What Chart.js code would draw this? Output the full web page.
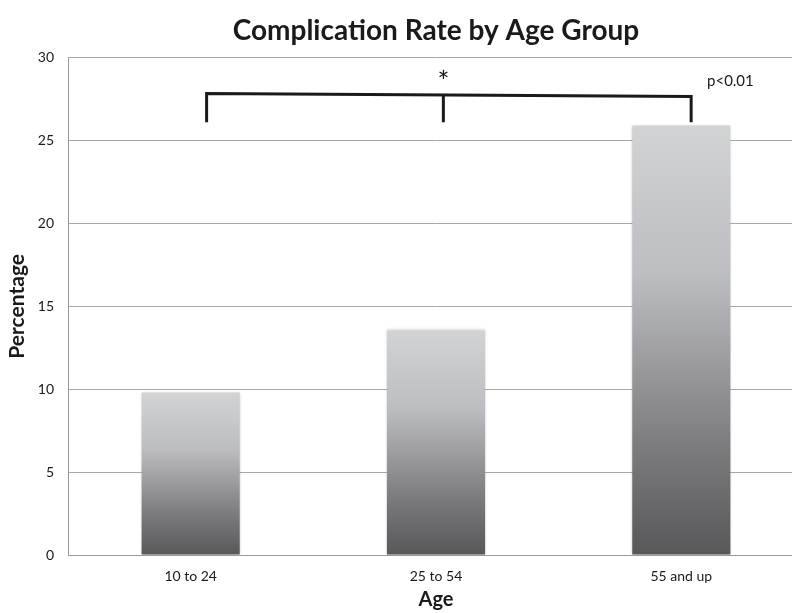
<!DOCTYPE html>
<html>
<head>
<meta charset="utf-8">
<script src="https://cdn.jsdelivr.net/npm/chart.js@4"></script>
<style>
  html, body { margin: 0; padding: 0; background: #fff; overflow: hidden; }
  #wrap { width: 804px; height: 613px; }
</style>
</head>
<body>
<div id="wrap"><canvas id="stage"></canvas></div>
<script>
// data
var ageGroups = ['10 to 24', '25 to 54', '55 and up'];
var complicationRate = [9.8, 13.55, 25.9];
var yTicks = [0, 5, 10, 15, 20, 25, 30];

// significance bracket, in data units (x = category index, y = percentage)
var bracketX = [0.065, 1.03, 2.04];
var bracketTop = [27.83, 27.75, 27.65];
var bracketFoot = 26.1;
var starLabel = { x: 1.03, y: 28.75, text: '*' };
var pLabel = { x: 2.2, y: 28.55, text: 'p<0.01' };

var canvas = document.getElementById('stage');

function barGradient(context) {
  var chart = context.chart;
  if (!chart.chartArea || !chart.scales.y) return '#9a9a9c';
  var yScale = chart.scales.y;
  var v = context.raw;
  var top = yScale.getPixelForValue(v);
  var bottom = yScale.getPixelForValue(0);
  var g = chart.ctx.createLinearGradient(0, top, 0, bottom);
  g.addColorStop(0, '#d2d3d5');
  g.addColorStop(0.35, '#bcbdc0');
  g.addColorStop(0.75, '#7b7b7e');
  g.addColorStop(1, '#58585a');
  return g;
}

var bracketPlugin = {
  id: 'bracket',
  beforeDatasetsDraw: function (chart) {
    var ctx = chart.ctx;
    ctx.save();
    ctx.shadowColor = 'rgba(0,0,0,0.25)';
    ctx.shadowBlur = 3;
  },
  afterDatasetsDraw: function (chart) {
    var ctx = chart.ctx;
    ctx.restore();
    var x = chart.scales.x, y = chart.scales.y;
    ctx.save();
    ctx.strokeStyle = '#1a1a1a';
    ctx.lineWidth = 3;
    ctx.beginPath();
    ctx.moveTo(x.getPixelForValue(bracketX[0]), y.getPixelForValue(bracketFoot));
    ctx.lineTo(x.getPixelForValue(bracketX[0]), y.getPixelForValue(bracketTop[0]));
    ctx.lineTo(x.getPixelForValue(bracketX[2]), y.getPixelForValue(bracketTop[2]));
    ctx.lineTo(x.getPixelForValue(bracketX[2]), y.getPixelForValue(bracketFoot));
    ctx.moveTo(x.getPixelForValue(bracketX[1]), y.getPixelForValue(bracketTop[1]));
    ctx.lineTo(x.getPixelForValue(bracketX[1]), y.getPixelForValue(bracketFoot));
    ctx.stroke();
    ctx.fillStyle = '#1a1a1a';
    ctx.textAlign = 'center';
    ctx.textBaseline = 'middle';
    ctx.font = '28px Lato';
    ctx.fillText(starLabel.text, x.getPixelForValue(starLabel.x), y.getPixelForValue(starLabel.y) + 5);
    ctx.font = '15px Lato';
    ctx.fillText(pLabel.text, x.getPixelForValue(pLabel.x), y.getPixelForValue(pLabel.y));
    ctx.restore();
  }
};

var chart = new Chart(canvas, {
  type: 'bar',
  data: {
    labels: ageGroups,
    datasets: [{
      data: complicationRate,
      backgroundColor: barGradient,
      borderWidth: 0,
      barPercentage: 0.4,
      categoryPercentage: 1
    }]
  },
  options: {
    responsive: true,
    maintainAspectRatio: false,
    animation: false,
    layout: { padding: { top: 6, left: 0, right: 0, bottom: 0 } },
    plugins: {
      legend: { display: false },
      tooltip: { enabled: false },
      title: {
        display: true,
        fullSize: false,
        text: 'Complication Rate by Age Group',
        color: '#1a1a1a',
        font: { family: 'Lato', size: 28, weight: 'bold' },
        padding: { top: 8, bottom: 10 }
      }
    },
    scales: {
      x: {
        afterFit: function (scale) { scale.height = 58; },
        grid: { display: false },
        border: { display: true, color: '#9a9a9a', width: 1 },
        ticks: { color: '#1a1a1a', font: { family: 'Lato', size: 14 }, padding: 5 },
        title: {
          display: true,
          text: 'Age',
          color: '#1a1a1a',
          font: { family: 'Lato', size: 20, weight: 'bold' },
          padding: { top: 0, bottom: 1 }
        }
      },
      y: {
        min: 0,
        max: 30,
        afterFit: function (scale) { scale.width = 68; },
        afterBuildTicks: function (axis) {
          axis.ticks = yTicks.map(function (v) { return { value: v }; });
        },
        grid: { color: '#a8a8a8', lineWidth: 1, drawTicks: false },
        border: { display: true, color: '#9a9a9a', width: 1 },
        ticks: { color: '#1a1a1a', font: { family: 'Lato', size: 14 }, padding: 14 },
        title: {
          display: true,
          text: 'Percentage',
          color: '#1a1a1a',
          font: { family: 'Lato', size: 21, weight: 'bold' },
          padding: { top: 5, bottom: 0 }
        }
      }
    }
  },
  plugins: [bracketPlugin]
});
</script>
</body>
</html>
